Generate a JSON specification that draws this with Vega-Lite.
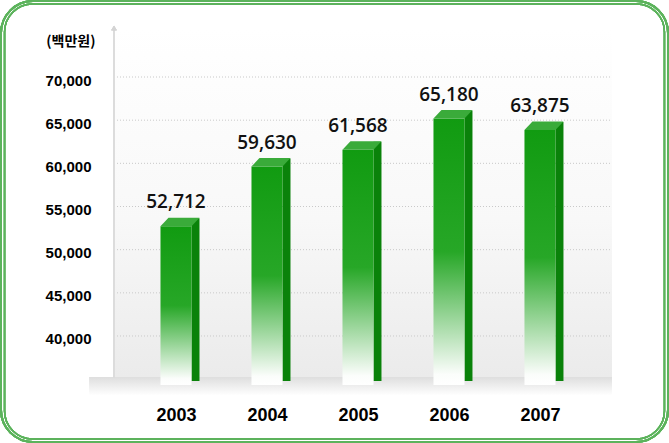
{
  "$schema": "https://vega.github.io/schema/vega-lite/v6.json",
  "width": 669,
  "height": 443,
  "autosize": {"type": "none"},
  "padding": 0,
  "background": "white",
  "config": {
    "view": {"stroke": null, "fill": "white"},
    "scale": {"continuousPadding": 0}
  },
  "datasets": {
    "sales": [
      {"year": 2003, "value": 52712},
      {"year": 2004, "value": 59630},
      {"year": 2005, "value": 61568},
      {"year": 2006, "value": 65180},
      {"year": 2007, "value": 63875}
    ],
    "grid": [
      {"tick": 40000}, {"tick": 45000}, {"tick": 50000}, {"tick": 55000},
      {"tick": 60000}, {"tick": 65000}, {"tick": 70000}
    ]
  },
  "data": {"name": "sales"},
  "layer": [
    {
      "mark": {"type": "rect", "fill": "white", "fillOpacity": 0, "stroke": "#5cb35c", "strokeWidth": 2, "cornerRadius": 32},
      "encoding": {
        "x": {"datum": 2001.077, "type": "quantitative", "scale": {"domain": [2001.066, 2008.418], "nice": false, "zero": false, "padding": 0}},
        "x2": {"datum": 2008.407},
        "y": {"datum": 78804, "type": "quantitative", "scale": {"domain": [27606, 78919], "nice": false, "zero": false, "padding": 0}},
        "y2": {"datum": 27722}
      }
    },
    {
      "mark": {"type": "rect", "fill": "white", "fillOpacity": 0, "stroke": "#5cb35c", "strokeWidth": 1.5, "cornerRadius": 28},
      "encoding": {
        "x": {"datum": 2001.116, "type": "quantitative", "scale": {"domain": [2001.066, 2008.418], "nice": false, "zero": false, "padding": 0}},
        "x2": {"datum": 2008.368},
        "y": {"datum": 78456, "type": "quantitative", "scale": {"domain": [27606, 78919], "nice": false, "zero": false, "padding": 0}},
        "y2": {"datum": 28069}
      }
    },
    {
      "mark": {"type": "rect", "fill": {"gradient": "linear", "x1": 0, "y1": 0, "x2": 0, "y2": 1, "stops": [{"offset": 0, "color": "#ffffff"}, {"offset": 0.55, "color": "#f8f8f8"}, {"offset": 1, "color": "#ebebeb"}]}},
      "encoding": {
        "x": {"datum": 2002.319, "type": "quantitative", "scale": {"domain": [2001.066, 2008.418], "nice": false, "zero": false, "padding": 0}},
        "x2": {"datum": 2007.791},
        "y": {"datum": 75676, "type": "quantitative", "scale": {"domain": [27606, 78919], "nice": false, "zero": false, "padding": 0}},
        "y2": {"datum": 35250}
      }
    },
    {
      "mark": {"type": "rect", "fill": {"gradient": "linear", "x1": 0, "y1": 0, "x2": 0, "y2": 1, "stops": [{"offset": 0, "color": "#dedede"}, {"offset": 1, "color": "#ffffff"}]}},
      "encoding": {
        "x": {"datum": 2002.05, "type": "quantitative", "scale": {"domain": [2001.066, 2008.418], "nice": false, "zero": false, "padding": 0}},
        "x2": {"datum": 2007.791},
        "y": {"datum": 35250, "type": "quantitative", "scale": {"domain": [27606, 78919], "nice": false, "zero": false, "padding": 0}},
        "y2": {"datum": 33100}
      }
    },
    {
      "data": {"name": "grid"},
      "mark": {"type": "rule", "color": "#c8c8c8", "strokeWidth": 1, "strokeDash": [1, 2]},
      "encoding": {
        "x": {"datum": 2002.319, "type": "quantitative", "scale": {"domain": [2001.066, 2008.418], "nice": false, "zero": false, "padding": 0}},
        "x2": {"datum": 2007.791},
        "y": {"field": "tick", "type": "quantitative", "scale": {"domain": [27606, 78919], "nice": false, "zero": false, "padding": 0}}
      }
    },
    {
      "mark": {"type": "rule", "color": "#dcdcdc", "strokeWidth": 2},
      "encoding": {
        "x": {"datum": 2002.319, "type": "quantitative", "scale": {"domain": [2001.066, 2008.418], "nice": false, "zero": false, "padding": 0}},
        "y": {"datum": 75676, "type": "quantitative", "scale": {"domain": [27606, 78919], "nice": false, "zero": false, "padding": 0}},
        "y2": {"datum": 35135}
      }
    },
    {
      "mark": {"type": "point", "shape": "triangle-up", "filled": true, "color": "#d4d4d4", "opacity": 1, "size": 30},
      "encoding": {
        "x": {"datum": 2002.319, "type": "quantitative", "scale": {"domain": [2001.066, 2008.418], "nice": false, "zero": false, "padding": 0}},
        "y": {"datum": 75676, "type": "quantitative", "scale": {"domain": [27606, 78919], "nice": false, "zero": false, "padding": 0}}
      }
    },
    {
      "mark": {"type": "bar", "width": 8, "xOffset": 19.5, "yOffset": -8, "y2Offset": -4, "fill": "#0a820a", "stroke": null},
      "encoding": {
        "x": {"field": "year", "type": "quantitative", "scale": {"domain": [2001.066, 2008.418], "nice": false, "zero": false, "padding": 0}},
        "y": {"field": "value", "type": "quantitative", "scale": {"domain": [27606, 78919], "nice": false, "zero": false, "padding": 0}},
        "y2": {"datum": 34325}
      }
    },
    {
      "mark": {"type": "bar", "width": 31, "stroke": null, "fill": {"gradient": "linear", "x1": 0, "y1": 0, "x2": 0, "y2": 1, "stops": [{"offset": 0, "color": "#119b11"}, {"offset": 0.5, "color": "#27a727"}, {"offset": 0.96, "color": "#fbfdfb"}, {"offset": 1, "color": "#ffffff"}]}},
      "encoding": {
        "x": {
          "field": "year", "type": "quantitative",
          "scale": {"domain": [2001.066, 2008.418], "nice": false, "zero": false, "padding": 0},
          "axis": {
            "orient": "bottom", "offset": -23, "values": [2003, 2004, 2005, 2006, 2007], "labelExpr": "format(datum.value, 'd')",
            "title": null, "grid": false, "domain": false, "ticks": false, "tickSize": 0,
            "labelPadding": 0, "labelBaseline": "alphabetic",
            "labelFont": "Liberation Sans", "labelFontSize": 18, "labelFontWeight": "bold", "labelColor": "#000000"
          }
        },
        "y": {
          "field": "value", "type": "quantitative",
          "scale": {"domain": [27606, 78919], "nice": false, "zero": false, "padding": 0},
          "axis": {
            "orient": "left", "offset": -114, "values": [40000, 45000, 50000, 55000, 60000, 65000, 70000], "labelExpr": "format(datum.value, ',')",
            "grid": false, "domain": false, "ticks": false, "tickSize": 0,
            "labelPadding": 23, "labelOffset": 3, "labelBaseline": "middle",
            "labelFont": "Liberation Sans", "labelFontSize": 15, "labelFontWeight": "bold", "labelColor": "#000000",
            "title": "(백만원)", "titleAngle": 0, "titleAlign": "right", "titleBaseline": "middle",
            "titleX": -19, "titleY": 41, "titleFont": "Noto Sans CJK KR", "titleFontSize": 14, "titleFontWeight": "bold", "titleColor": "#000000"
          }
        },
        "y2": {"datum": 34325}
      }
    },
    {
      "mark": {"type": "point", "shape": "M-0.646,0 L0.646,0 L0.979,-0.354 L-0.3125,-0.354 Z", "size": 2304, "filled": true, "opacity": 1, "color": "#3aab3a", "strokeWidth": 0},
      "encoding": {
        "x": {"field": "year", "type": "quantitative", "scale": {"domain": [2001.066, 2008.418], "nice": false, "zero": false, "padding": 0}},
        "y": {"field": "value", "type": "quantitative", "scale": {"domain": [27606, 78919], "nice": false, "zero": false, "padding": 0}}
      }
    },
    {
      "mark": {"type": "text", "dy": -18, "baseline": "alphabetic", "align": "center", "font": "Open Sans", "fontSize": 19, "fontWeight": 600, "color": "#111111"},
      "encoding": {
        "x": {"field": "year", "type": "quantitative", "scale": {"domain": [2001.066, 2008.418], "nice": false, "zero": false, "padding": 0}},
        "y": {"field": "value", "type": "quantitative", "scale": {"domain": [27606, 78919], "nice": false, "zero": false, "padding": 0}},
        "text": {"field": "value", "type": "quantitative", "format": ","}
      }
    }
  ]
}
